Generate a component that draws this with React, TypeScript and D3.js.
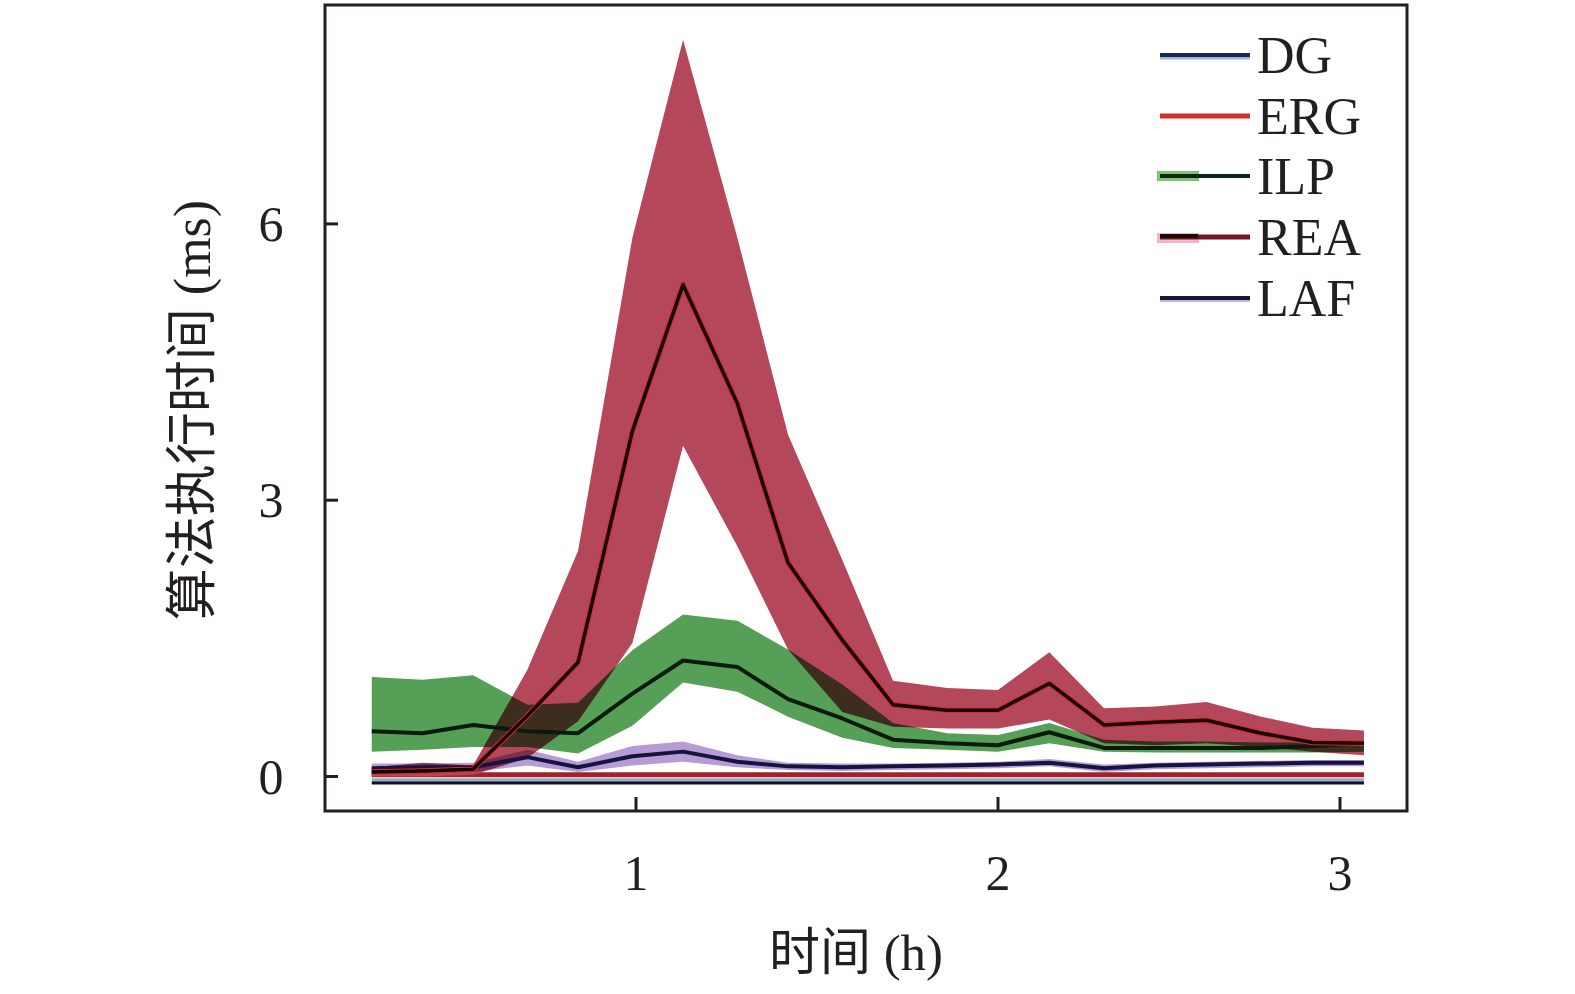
import * as d3 from "d3";
import React from "react";

// ── Data ─────────────────────────────────────────────────────────────────────
const hours = [0.27, 0.41, 0.55, 0.7, 0.84, 0.99, 1.13, 1.28, 1.42, 1.57, 1.71, 1.86, 2.0, 2.15, 2.31, 2.46, 2.61, 2.77, 2.92, 3.07];

const reaMean = [0.05, 0.06, 0.08, 0.66, 1.24, 3.75, 5.34, 4.05, 2.32, 1.48, 0.78, 0.72, 0.72, 1.01, 0.56, 0.59, 0.61, 0.47, 0.37, 0.36];
const reaUpper = [0.1, 0.15, 0.12, 1.16, 2.45, 5.85, 8.0, 5.85, 3.71, 2.35, 1.04, 0.96, 0.94, 1.35, 0.74, 0.76, 0.81, 0.65, 0.53, 0.5];
const reaLower = [0.0, 0.0, 0.02, 0.2, 0.6, 1.45, 3.59, 2.5, 1.38, 0.7, 0.54, 0.52, 0.52, 0.62, 0.36, 0.34, 0.36, 0.32, 0.27, 0.23];

const ilpMean = [0.49, 0.47, 0.56, 0.49, 0.47, 0.9, 1.26, 1.19, 0.84, 0.63, 0.4, 0.36, 0.34, 0.48, 0.31, 0.31, 0.31, 0.31, 0.33, 0.36];
const ilpUpper = [1.08, 1.05, 1.1, 0.78, 0.8, 1.37, 1.76, 1.69, 1.38, 1.0, 0.58, 0.47, 0.45, 0.58, 0.4, 0.38, 0.38, 0.37, 0.37, 0.38];
const ilpLower = [0.27, 0.29, 0.32, 0.32, 0.25, 0.55, 1.02, 0.92, 0.65, 0.42, 0.31, 0.29, 0.27, 0.36, 0.27, 0.26, 0.26, 0.26, 0.26, 0.27];

const lafMean = [0.09, 0.1, 0.1, 0.21, 0.1, 0.22, 0.27, 0.16, 0.11, 0.1, 0.11, 0.12, 0.13, 0.15, 0.09, 0.12, 0.13, 0.14, 0.15, 0.15];
const lafUpper = [0.14, 0.14, 0.15, 0.29, 0.16, 0.33, 0.38, 0.23, 0.15, 0.14, 0.14, 0.15, 0.16, 0.19, 0.13, 0.15, 0.16, 0.17, 0.18, 0.18];
const lafLower = [0.04, 0.05, 0.05, 0.12, 0.05, 0.12, 0.16, 0.1, 0.07, 0.06, 0.07, 0.08, 0.09, 0.11, 0.05, 0.08, 0.09, 0.1, 0.11, 0.11];

const ergMean = [0.02, 0.02, 0.02, 0.02, 0.02, 0.02, 0.02, 0.02, 0.02, 0.02, 0.02, 0.02, 0.02, 0.02, 0.02, 0.02, 0.02, 0.02, 0.02, 0.02];
const dgMean = [-0.07, -0.07, -0.07, -0.07, -0.07, -0.07, -0.07, -0.07, -0.07, -0.07, -0.07, -0.07, -0.07, -0.07, -0.07, -0.07, -0.07, -0.07, -0.07, -0.07];
const dgHalo = [-0.04, -0.04, -0.04, -0.04, -0.04, -0.04, -0.04, -0.04, -0.04, -0.04, -0.04, -0.04, -0.04, -0.04, -0.04, -0.04, -0.04, -0.04, -0.04, -0.04];

const xTicks = [1, 2, 3];
const yTicks = [0, 3, 6];
const legendLabels = ["DG", "ERG", "ILP", "REA", "LAF"];

// ── Layout ───────────────────────────────────────────────────────────────────
const W = 1575;
const H = 994;
const frame = { left: 325, right: 1407, top: 5, bottom: 811 };
const SERIF = "'Liberation Serif', 'Times New Roman', 'Noto Sans CJK SC', serif";
const AXIS = "#231f20";

// the printed axis is slightly uneven, so ticks are pinned one by one
const x = d3.scaleLinear().domain([1, 2, 3]).range([636, 998, 1340]);
const y = d3.scaleLinear().domain([0, 6]).range([776.5, 223.9]);

const lineOf = (vals: number[]) =>
  d3.line<number>().x((_, i) => x(hours[i])).y((v) => y(v))(vals) ?? "";

const bandOf = (lo: number[], hi: number[]) =>
  d3
    .area<number>()
    .x((_, i) => x(hours[i]))
    .y0((_, i) => y(lo[i]))
    .y1((_, i) => y(hi[i]))(hours) ?? "";

function Legend() {
  const x0 = 1160;
  const x1 = 1250;
  const ys = [55, 116, 176, 237, 298];
  return (
    <g>
      {/* DG */}
      <line x1={x0} x2={x1} y1={ys[0] + 2} y2={ys[0] + 2} stroke="#9db4d6" strokeWidth={5} />
      <line x1={x0} x2={x1} y1={ys[0]} y2={ys[0]} stroke="#1c2655" strokeWidth={4} />
      {/* ERG */}
      <line x1={x0} x2={x1} y1={ys[1]} y2={ys[1]} stroke="#d5302a" strokeWidth={5} />
      {/* ILP */}
      <rect x={x0 - 3} y={ys[2] - 5} width={42} height={10} fill="#7cc46f" />
      <line x1={x0} x2={x1} y1={ys[2]} y2={ys[2]} stroke="#0f2414" strokeWidth={4} />
      {/* REA */}
      <rect x={x0 - 3} y={ys[3] - 4} width={42} height={10} fill="#f3b6c4" />
      <line x1={x0} x2={x1} y1={ys[3]} y2={ys[3]} stroke="#74161f" strokeWidth={5} />
      <line x1={x0} x2={x0 + 38} y1={ys[3] - 1} y2={ys[3] - 1} stroke="#1a0a0a" strokeWidth={4} />
      {/* LAF */}
      <line x1={x0} x2={x1} y1={ys[4] + 1} y2={ys[4] + 1} stroke="#c9b2e3" strokeWidth={6} />
      <line x1={x0} x2={x1} y1={ys[4]} y2={ys[4]} stroke="#17163a" strokeWidth={4} />
      {legendLabels.map((l, i) => (
        <text
          key={l}
          x={1257}
          y={ys[i] + 18}
          fontFamily={SERIF}
          fontSize={52}
          fill="#231f20"
        >
          {l}
        </text>
      ))}
    </g>
  );
}

export default function App() {
  return (
    <div style={{ position: "absolute", left: 0, top: 0, background: "#fff" }}>
      <svg width={W} height={H} viewBox={`0 0 ${W} ${H}`} style={{ display: "block" }}>
        <rect width={W} height={H} fill="#fff" />

        {/* bottom flat lines */}
        <path d={lineOf(dgHalo)} fill="none" stroke="#9aaac4" strokeWidth={4} />
        <path d={lineOf(dgMean)} fill="none" stroke="#101226" strokeWidth={3} />
        <path d={lineOf(ergMean)} fill="none" stroke="#a3212b" strokeWidth={5} />

        {/* bands, multiplied so overlaps turn brown */}
        <g style={{ isolation: "isolate" }}>
          <path d={bandOf(ilpLower, ilpUpper)} fill="#55a056" style={{ mixBlendMode: "multiply" }} />
          <path d={bandOf(reaLower, reaUpper)} fill="#b4475a" style={{ mixBlendMode: "multiply" }} />
          <path d={bandOf(lafLower, lafUpper)} fill="#a88bd0" opacity={0.85} style={{ mixBlendMode: "multiply" }} />
        </g>

        {/* mean lines */}
        <path d={lineOf(lafMean)} fill="none" stroke="#14143e" strokeWidth={4} strokeLinejoin="round" />
        <path d={lineOf(ilpMean)} fill="none" stroke="#0b1a0d" strokeWidth={4} strokeLinejoin="round" />
        <path d={lineOf(reaMean)} fill="none" stroke="#e0262a" strokeWidth={5.5} strokeLinejoin="round" />
        <path d={lineOf(reaMean)} fill="none" stroke="#0d0505" strokeWidth={3.5} strokeLinejoin="round" />

        {/* frame */}
        <rect
          x={frame.left}
          y={frame.top}
          width={frame.right - frame.left}
          height={frame.bottom - frame.top}
          fill="none"
          stroke={AXIS}
          strokeWidth={3}
        />

        {/* y ticks */}
        {yTicks.map((t) => (
          <g key={`y${t}`}>
            <line x1={frame.left} x2={frame.left + 13} y1={y(t)} y2={y(t)} stroke={AXIS} strokeWidth={3} />
            <text
              x={271}
              y={y(t) + 17}
              textAnchor="middle"
              fontFamily={SERIF}
              fontSize={50}
              fill="#231f20"
            >
              {t}
            </text>
          </g>
        ))}

        {/* x ticks */}
        {xTicks.map((t) => (
          <g key={`x${t}`}>
            <line x1={x(t)} x2={x(t)} y1={frame.bottom} y2={frame.bottom - 14} stroke={AXIS} strokeWidth={3} />
            <text
              x={x(t)}
              y={890}
              textAnchor="middle"
              fontFamily={SERIF}
              fontSize={50}
              fill="#231f20"
            >
              {t}
            </text>
          </g>
        ))}

        {/* axis titles */}
        <text x={856} y={970} textAnchor="middle" fontFamily={SERIF} fontSize={51} fill="#231f20">
          时间 (h)
        </text>
        <text
          transform="translate(210,410) rotate(-90)"
          textAnchor="middle"
          fontFamily={SERIF}
          fontSize={52}
          fill="#231f20"
        >
          算法执行时间 (ms)
        </text>

        <Legend />
      </svg>
    </div>
  );
}
